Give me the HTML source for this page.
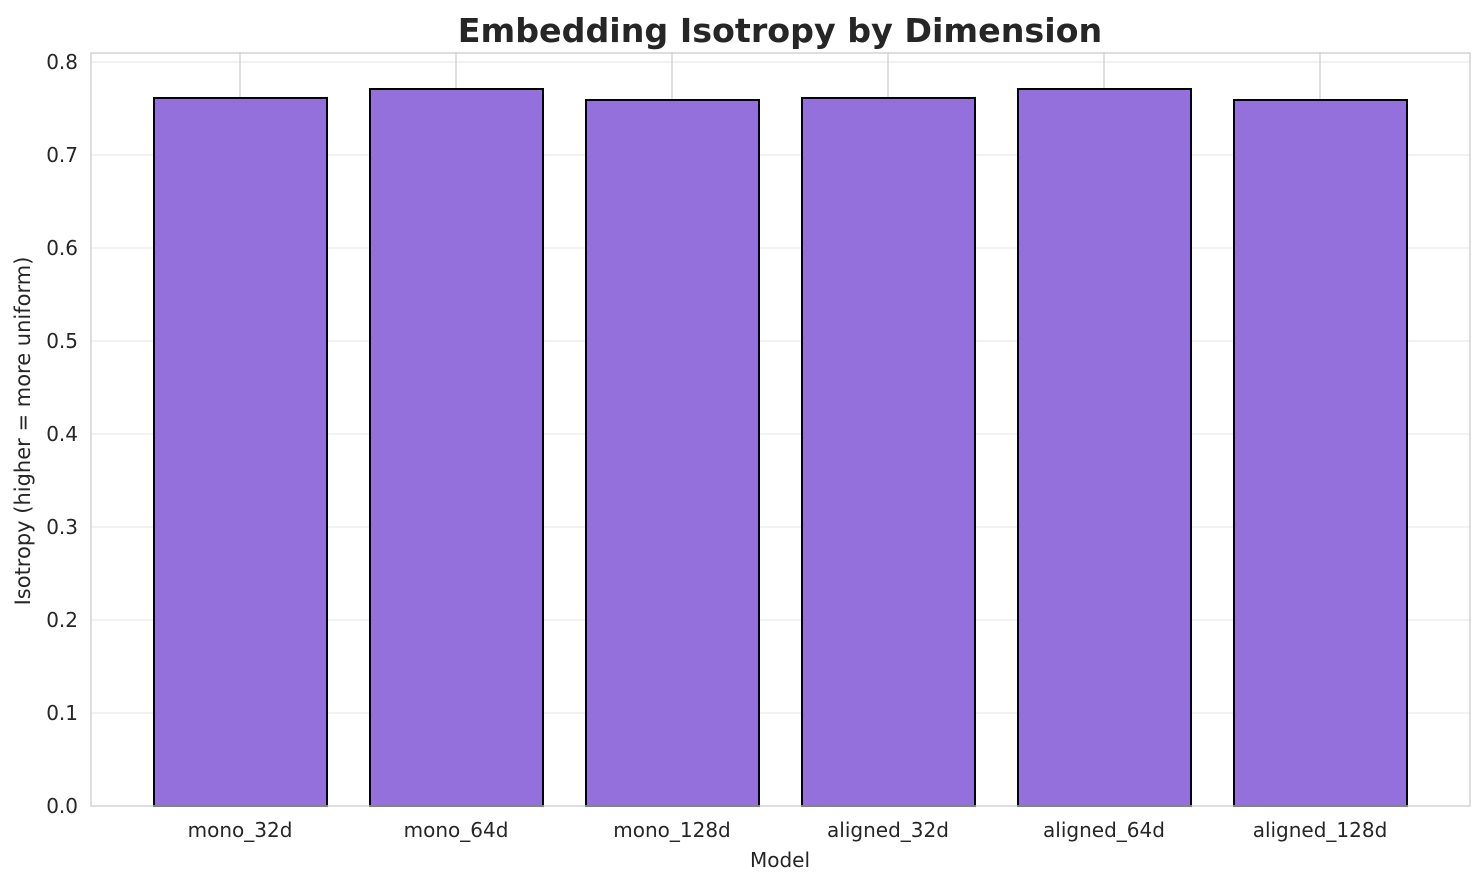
<!DOCTYPE html>
<html><head><meta charset="utf-8"><style>body{margin:0;background:#fff}svg{display:block}text{font-family:"DejaVu Sans","Liberation Sans",sans-serif;fill:#262626}</style></head>
<body>
<svg width="1484" height="885" viewBox="0 0 1484 885">
<rect width="1484" height="885" fill="#fff"/>
<g stroke="#ebebeb" stroke-width="1.2">
<line x1="91" x2="1470" y1="62" y2="62"/><line x1="91" x2="1470" y1="155" y2="155"/><line x1="91" x2="1470" y1="248" y2="248"/><line x1="91" x2="1470" y1="341" y2="341"/><line x1="91" x2="1470" y1="434" y2="434"/><line x1="91" x2="1470" y1="527" y2="527"/><line x1="91" x2="1470" y1="620" y2="620"/><line x1="91" x2="1470" y1="713" y2="713"/>
</g>
<g stroke="#cccccc" stroke-width="1.2">
<line x1="240" x2="240" y1="53" y2="806"/><line x1="456" x2="456" y1="53" y2="806"/><line x1="672" x2="672" y1="53" y2="806"/><line x1="888" x2="888" y1="53" y2="806"/><line x1="1104" x2="1104" y1="53" y2="806"/><line x1="1320" x2="1320" y1="53" y2="806"/>
</g>
<g fill="#9370db" stroke="#000" stroke-width="2">
<rect x="154" y="98" width="173" height="708"/>
<rect x="370" y="89" width="173" height="717"/>
<rect x="586" y="100" width="173" height="706"/>
<rect x="802" y="98" width="173" height="708"/>
<rect x="1018" y="89" width="173" height="717"/>
<rect x="1234" y="100" width="173" height="706"/>
</g>
<rect x="91" y="53" width="1379" height="753" fill="none" stroke="#cccccc" stroke-width="1.3"/>
<g font-size="20" text-anchor="end">
<text x="78" y="69">0.8</text><text x="78" y="162">0.7</text><text x="78" y="255">0.6</text><text x="78" y="348">0.5</text><text x="78" y="441">0.4</text><text x="78" y="534">0.3</text><text x="78" y="627">0.2</text><text x="78" y="720">0.1</text><text x="78" y="813">0.0</text>
</g>
<g font-size="20" text-anchor="middle">
<text x="240" y="837">mono_32d</text><text x="456" y="837">mono_64d</text><text x="672" y="837">mono_128d</text><text x="888" y="837">aligned_32d</text><text x="1104" y="837">aligned_64d</text><text x="1320" y="837">aligned_128d</text>
<text x="780" y="867">Model</text>
<text x="0" y="0" font-size="21" transform="translate(30,431) rotate(-90)">Isotropy (higher = more uniform)</text>
<text x="780" y="42" font-size="33.3" font-weight="bold">Embedding Isotropy by Dimension</text>
</g>
</svg>
</body></html>
